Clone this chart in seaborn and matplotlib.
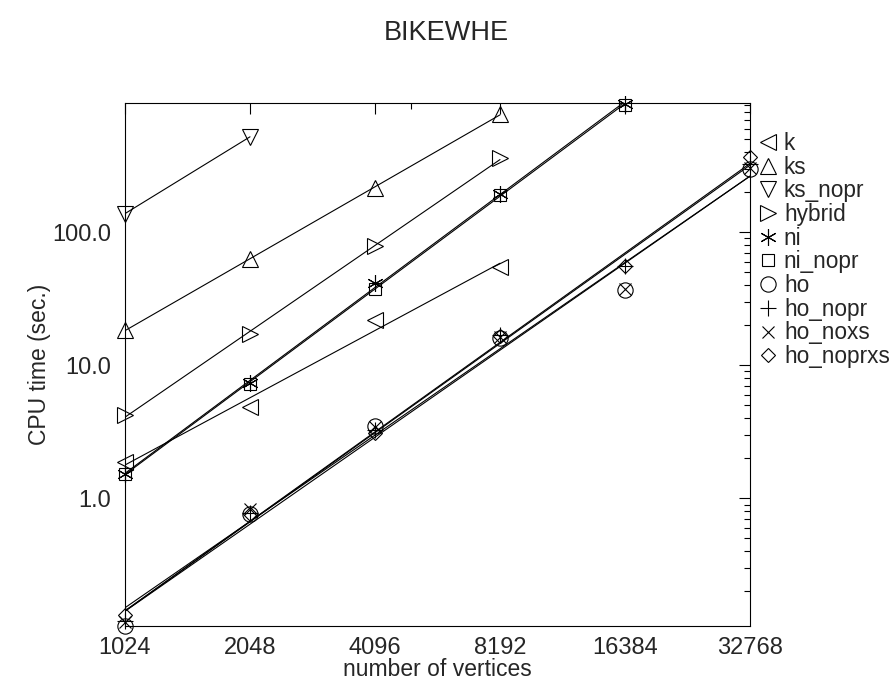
import numpy as np
import pandas as pd
import matplotlib
matplotlib.use("Agg")
import matplotlib.pyplot as plt
import seaborn as sns
from matplotlib.ticker import FixedLocator, NullFormatter, LogLocator

# ---- data ----
sizes = [1024, 2048, 4096, 8192, 16384, 32768]
k = [1.87, 4.86, 21.8, 54.8]
ks = [18.3, 63.4, 215, 771]
ks_nopr = [138, 521]
hybrid = [4.2, 17.3, 78.9, 358]
ni = [1.53, 7.36, 41.6, 195, 920]
ni_nopr = [1.53, 7.3, 37.7, 192, 910]
ho = [0.110, 0.77, 3.5, 16.0, 37.0, 300]
ho_nopr = [0.120, 0.78, 3.25, 17.0, 56.0, 325]
ho_noxs = [0.118, 0.83, 3.45, 16.3, 37.5, 305]
ho_noprxs = [0.132, 0.76, 3.1, 16.5, 55.5, 365]

series_names = ["k", "ks", "ks_nopr", "hybrid", "ni", "ni_nopr",
                "ho", "ho_nopr", "ho_noxs", "ho_noprxs"]
series_vals = [k, ks, ks_nopr, hybrid, ni, ni_nopr,
               ho, ho_nopr, ho_noxs, ho_noprxs]
x_ticks = [1024, 2048, 4096, 8192, 16384, 32768]
x_tick_labels = ["1024", "2048", "4096", "8192", "16384", "32768"]
y_ticks = [1.0, 10.0, 100.0]
y_tick_labels = ["1.0", "10.0", "100.0"]

# ---- styles ----
markers = {"k": "<", "ks": "^", "ks_nopr": "v", "hybrid": ">",
           "ni": (6, 2, 0), "ni_nopr": "s", "ho": "o", "ho_nopr": "+",
           "ho_noxs": "x", "ho_noprxs": "D"}
msizes = {"k": 11, "ks": 11, "ks_nopr": 11, "hybrid": 11,
          "ni": 12, "ni_nopr": 8, "ho": 11, "ho_nopr": 11,
          "ho_noxs": 9, "ho_noprxs": 7.5}

sns.set_style("white")
plt.rcParams["font.family"] = ["Liberation Sans", "DejaVu Sans"]

fig = plt.figure(figsize=(8.92, 6.83), dpi=100)
ax = fig.add_axes([125 / 892, 1 - 626 / 683, 625 / 892, 523 / 683])

rows = []
for name, vals in zip(series_names, series_vals):
    for xv, yv in zip(sizes, vals):
        rows.append({"series": name, "n": xv, "t": yv})
df = pd.DataFrame(rows)

for name in series_names:
    d = df[df["series"] == name]
    lx = np.log2(d["n"].to_numpy())
    ly = np.log10(d["t"].to_numpy())
    slope, icpt = np.polyfit(lx, ly, 1)
    fit = pd.DataFrame({"n": d["n"].to_numpy(), "t": 10 ** (icpt + slope * lx)})
    sns.lineplot(data=fit, x="n", y="t", ax=ax, color="black", lw=0.8,
                 estimator=None, sort=True, legend=False)
    sns.lineplot(data=d, x="n", y="t", ax=ax, estimator=None, label=name,
                 linestyle="", marker=markers[name], markersize=msizes[name],
                 markerfacecolor="none", markeredgecolor="black",
                 markeredgewidth=0.8, color="black", clip_on=False, zorder=5)

ax.set_xscale("log", base=2)
ax.set_yscale("log")
ax.set_xlim(min(sizes), max(sizes))
allv = [v for s in series_vals for v in s]
ax.set_ylim(min(allv), max(allv) + 15)

ax.xaxis.set_major_locator(FixedLocator(x_ticks))
ax.set_xticklabels(x_tick_labels)
ax.xaxis.set_minor_locator(FixedLocator([5000]))
ax.xaxis.set_minor_formatter(NullFormatter())
ax.yaxis.set_major_locator(FixedLocator(y_ticks))
ax.set_yticklabels(y_tick_labels)
ax.yaxis.set_minor_locator(LogLocator(base=10, subs=np.arange(2, 10)))
ax.yaxis.set_minor_formatter(NullFormatter())

ax.tick_params(which="both", direction="in", top=True, right=True,
               color="black", width=0.8, labelsize=17)
ax.tick_params(which="major", length=8)
ax.tick_params(which="minor", length=4.5)
ax.tick_params(axis="y", pad=10)
ax.tick_params(axis="x", pad=8)
for sp in ax.spines.values():
    sp.set_color("black")
    sp.set_linewidth(0.8)
ax.set_xlabel("")
ax.set_ylabel("")

fig.text(0.5, 1 - 33 / 683, "BIKEWHE", ha="center", va="center", fontsize=19.5)
fig.text(0.5 * (125 + 750) / 892, 1 - 669 / 683, "number of vertices",
         ha="center", va="center", fontsize=16.5)
fig.text(40 / 892, 1 - 364.5 / 683, "CPU time (sec.)", rotation=90,
         ha="center", va="center", fontsize=16.5)

ax.get_legend().remove()
handles, labels = ax.get_legend_handles_labels()
fig.legend(handles, labels, loc="upper left",
           bbox_to_anchor=(759 / 892, 1 - 132 / 683), frameon=False,
           fontsize=16.3, handlelength=0.8, handletextpad=0.3,
           borderaxespad=0, borderpad=0, labelspacing=0.03)

fig.savefig("out.png", dpi=100)
